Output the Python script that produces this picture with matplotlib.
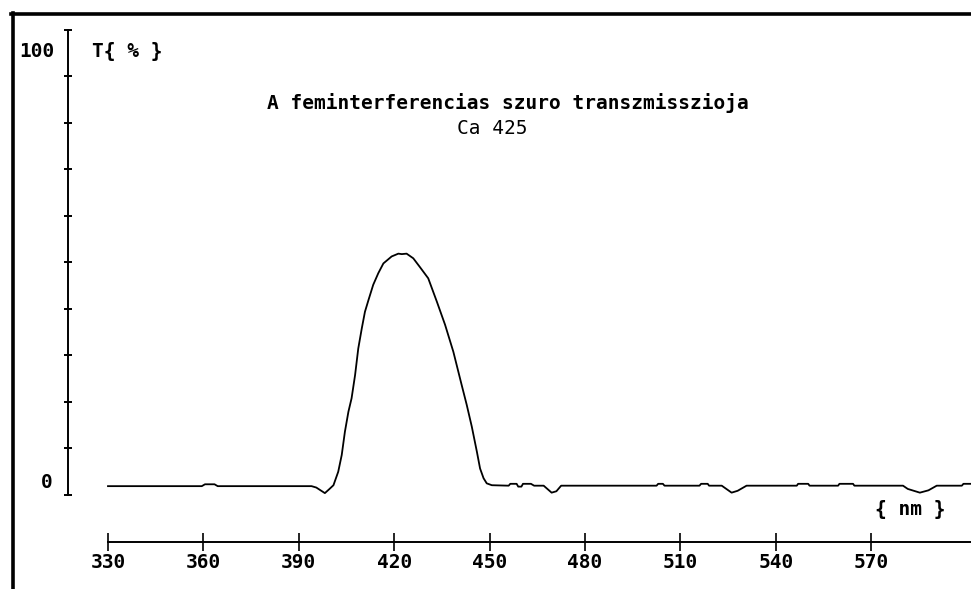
import matplotlib
matplotlib.use("Agg")
import matplotlib.pyplot as plt
from matplotlib.lines import Line2D

# transmission curve of the Ca 425 interference filter
wavelength_nm = [330, 359.5, 360.5, 363.5, 364.5, 394, 395.5, 398.2, 399.5, 400.9,
                 402.4, 403.5, 404.5, 405.6, 406.6, 407.7, 408.7, 409.8, 410.8, 411.9,
                 413.4, 415.0, 416.6, 419.2, 421.3, 422.4, 423.9, 426.0, 428.1, 430.7,
                 433.4, 436.0, 438.6, 441.2, 442.8, 444.4, 446.0, 447.0, 448.1, 449.1,
                 450.7, 456.0, 456.5, 458.5, 459, 460, 460.5, 463,
                 464, 467, 469.5, 471, 472.5, 502.5, 503, 504.5, 505, 516,
                 516.5, 518.6, 519, 523, 526.1, 528, 530.8, 546.6, 547, 550.2,
                 550.6, 559.6, 560, 564.3, 564.7, 580, 581.5, 585.3, 588, 590.6,
                 598.5, 599, 602]
transmission_pct = [1.9, 1.9, 2.3, 2.3, 1.9, 1.9, 1.6, 0.4, 1.2, 2.1,
                    5.0, 8.6, 13.6, 17.9, 20.8, 25.8, 31.5, 35.8, 39.4, 41.9,
                    45.2, 47.7, 49.8, 51.3, 51.9, 51.8, 51.9, 50.9, 49.0, 46.6,
                    41.6, 36.6, 30.8, 23.7, 19.4, 14.7, 9.3, 5.7, 3.6, 2.5,
                    2.1, 2.0, 2.4, 2.4, 1.8, 1.8, 2.4, 2.4,
                    2.0, 2.0, 0.5, 0.8, 2.0, 2.0, 2.4, 2.4, 2.0, 2.0,
                    2.4, 2.4, 2.0, 2.0, 0.5, 0.9, 2.0, 2.0, 2.4, 2.4,
                    2.0, 2.0, 2.4, 2.4, 2.0, 2.0, 1.3, 0.5, 1.0, 2.0,
                    2.0, 2.4, 2.4]

x_ticks = [330, 360, 390, 420, 450, 480, 510, 540, 570]
y_ticks = [0, 10, 20, 30, 40, 50, 60, 70, 80, 90, 100]

title = "A feminterferencias szuro transzmisszioja"
subtitle = "Ca 425"

mono = "DejaVu Sans Mono"

fig = plt.figure(figsize=(9.71, 5.89), dpi=100)
ax = fig.add_axes([0, 0, 1, 1])
ax.set_xlim(296.04, 601.38)
ax.set_ylim(-20.22, 106.45)
ax.patch.set_alpha(0)

ax.plot(wavelength_nm, transmission_pct, color="black", lw=1.3)

# axes drawn as detached lines, old plotter style
for side in ("top", "right"):
    ax.spines[side].set_visible(False)
ax.spines["left"].set_position(("data", 317.4))
ax.spines["left"].set_bounds(0, 100)
ax.spines["left"].set_linewidth(1.4)
ax.spines["bottom"].set_position(("data", -10.1))
ax.spines["bottom"].set_bounds(330, 601.38)
ax.spines["bottom"].set_linewidth(1.4)

ax.set_yticks(y_ticks)
ax.set_yticklabels([])
ax.tick_params(axis="y", direction="inout", length=6, width=1.4)
ax.set_xticks(x_ticks)
ax.set_xticklabels([str(t) for t in x_ticks], family=mono, fontweight="bold",
                   fontsize=14)
ax.tick_params(axis="x", direction="inout", length=13.5, width=1.2, pad=1)

ax.text(313.2, 95.3, "100", family=mono, fontweight="bold", fontsize=14,
        ha="right", va="center")
ax.text(312.6, 2.6, "0", family=mono, fontweight="bold", fontsize=14,
        ha="right", va="center")
ax.text(325.0, 95.3, "T{ % }", family=mono, fontweight="bold", fontsize=14,
        ha="left", va="center")
ax.text(582.2, -3.2, "{ nm }", family=mono, fontweight="bold", fontsize=14,
        ha="center", va="center")
ax.text(455.8, 84.3, title, family=mono, fontweight="bold", fontsize=14,
        ha="center", va="center")
ax.text(450.8, 78.9, subtitle, family=mono, fontsize=14,
        ha="center", va="center")

# outer frame (only top and left edges are on the sheet)
fig.add_artist(Line2D([12.5 / 971, 12.5 / 971], [0, 1 - 13 / 589],
                      transform=fig.transFigure, color="black", lw=2.6))
fig.add_artist(Line2D([11 / 971, 1], [1 - 13.5 / 589, 1 - 13.5 / 589],
                      transform=fig.transFigure, color="black", lw=2.6))

fig.savefig("out.png", dpi=100, facecolor="white")
